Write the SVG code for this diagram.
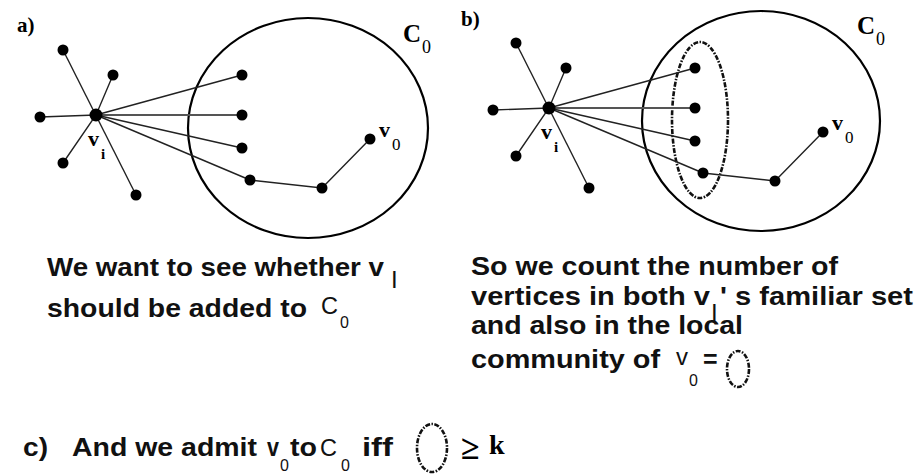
<svg xmlns="http://www.w3.org/2000/svg" width="918" height="475" viewBox="0 0 918 475">
<style>
.edge{stroke:#222;stroke-width:1.4;fill:none}
.dbl{stroke:#555;stroke-width:2.2;fill:none}
.node{fill:#000}
.comm{fill:none;stroke:#000;stroke-width:2.2}
.fam{fill:none;stroke:#111;stroke-width:2.6;stroke-dasharray:5 1.5 1.5 1.5}
.lbl{font-family:"Liberation Serif","Times New Roman",serif;font-weight:bold;fill:#000}
.lsub{font-family:"Liberation Serif","Times New Roman",serif;fill:#000}
.txt{font-family:"Liberation Sans",Arial,sans-serif;font-weight:bold;font-size:25px;fill:#111}
.reg{font-family:"Liberation Sans",Arial,sans-serif;font-size:24px;fill:#111}
.sub{font-family:"Liberation Sans",Arial,sans-serif;font-size:16px;fill:#111}
</style>
<rect width="918" height="475" fill="#fff"/>

<!-- Panel a -->
<g id="panel-a">
  <text class="lbl" x="17" y="32" font-size="21">a)</text>
  <g id="a-community">
    <ellipse class="comm" cx="308" cy="128" rx="120" ry="110"/>
    <text class="lbl" x="403" y="42" font-size="25">C</text>
    <text class="lsub" x="422" y="53" font-size="18">0</text>
  </g>
  <g id="a-connectors">
    <path class="edge" d="M63 50 L136 195"/>
    <path class="edge" d="M113 75 L96 115 L63 163"/>
    <path class="edge" d="M40 117 L96 115"/>
    <path class="edge" d="M96 115 L242 75"/>
    <path class="dbl" d="M96 115 L242 115"/>
    <path class="edge" d="M96 115 L242 148"/>
    <path class="edge" d="M96 115 L250 180"/>
    <path class="edge" d="M250 180 L322 188 L370 139"/>
  </g>
  <g id="a-vi"><circle class="node" cx="96" cy="115" r="6.5"/><text class="lbl" x="88" y="146" font-size="22">v</text><text class="lbl" x="101" y="159" font-size="15">i</text></g>
  <g id="a-n1"><circle class="node" cx="63" cy="50" r="5.5"/></g>
  <g id="a-n2"><circle class="node" cx="113" cy="75" r="5.5"/></g>
  <g id="a-n3"><circle class="node" cx="40" cy="117" r="5.5"/></g>
  <g id="a-n4"><circle class="node" cx="63" cy="163" r="5.5"/></g>
  <g id="a-n5"><circle class="node" cx="136" cy="195" r="5.5"/></g>
  <g id="a-m1"><circle class="node" cx="242" cy="75" r="5.5"/></g>
  <g id="a-m2"><circle class="node" cx="242" cy="115" r="5.5"/></g>
  <g id="a-m3"><circle class="node" cx="242" cy="148" r="5.5"/></g>
  <g id="a-m4"><circle class="node" cx="250" cy="180" r="5.5"/></g>
  <g id="a-m5"><circle class="node" cx="322" cy="188" r="5.5"/></g>
  <g id="a-v0"><circle class="node" cx="370" cy="139" r="5.5"/><text class="lbl" x="379" y="137" font-size="22">v</text><text class="lsub" x="392" y="150" font-size="17">0</text></g>
</g>

<!-- Panel b -->
<text class="lbl" x="461" y="26" font-size="21">b)</text>
<g id="panel-b" transform="translate(453,-7)">
  <g id="b-community">
    <ellipse class="comm" cx="308" cy="128" rx="119" ry="110"/>
    <text class="lbl" x="404" y="41" font-size="25">C</text>
    <text class="lsub" x="423" y="52" font-size="18">0</text>
  </g>
  <g id="b-familiar"><ellipse class="fam" cx="247" cy="127" rx="28" ry="78"/></g>
  <g id="b-connectors">
    <path class="edge" d="M63 50 L136 195"/>
    <path class="edge" d="M113 75 L96 115 L63 163"/>
    <path class="edge" d="M40 117 L96 115"/>
    <path class="edge" d="M96 115 L242 75"/>
    <path class="dbl" d="M96 115 L242 115"/>
    <path class="edge" d="M96 115 L242 148"/>
    <path class="edge" d="M96 115 L250 180"/>
    <path class="edge" d="M250 180 L322 188 L370 139"/>
  </g>
  <g id="b-vi"><circle class="node" cx="96" cy="115" r="6.5"/><text class="lbl" x="88" y="146" font-size="22">v</text><text class="lbl" x="101" y="159" font-size="15">i</text></g>
  <g id="b-n1"><circle class="node" cx="63" cy="50" r="5.5"/></g>
  <g id="b-n2"><circle class="node" cx="113" cy="75" r="5.5"/></g>
  <g id="b-n3"><circle class="node" cx="40" cy="117" r="5.5"/></g>
  <g id="b-n4"><circle class="node" cx="63" cy="163" r="5.5"/></g>
  <g id="b-n5"><circle class="node" cx="136" cy="195" r="5.5"/></g>
  <g id="b-m1"><circle class="node" cx="242" cy="75" r="5.5"/></g>
  <g id="b-m2"><circle class="node" cx="242" cy="115" r="5.5"/></g>
  <g id="b-m3"><circle class="node" cx="242" cy="148" r="5.5"/></g>
  <g id="b-m4"><circle class="node" cx="250" cy="180" r="5.5"/></g>
  <g id="b-m5"><circle class="node" cx="322" cy="188" r="5.5"/></g>
  <g id="b-v0"><circle class="node" cx="370" cy="139" r="5.5"/><text class="lbl" x="379" y="137" font-size="22">v</text><text class="lsub" x="392" y="150" font-size="17">0</text></g>
</g>

<!-- Caption a -->
<g id="caption-a">
  <text class="txt" x="47" y="276" textLength="337" lengthAdjust="spacingAndGlyphs">We want to see whether v</text>
  <text class="reg" x="391" y="288" font-size="18">I</text>
  <text class="txt" x="47" y="317" textLength="260" lengthAdjust="spacingAndGlyphs">should be added to</text>
  <text class="reg" x="321" y="314" textLength="17" lengthAdjust="spacingAndGlyphs">C</text>
  <text class="sub" x="340" y="328">0</text>
</g>

<!-- Caption b -->
<g id="caption-b">
  <text class="txt" x="471" y="275" textLength="367" lengthAdjust="spacingAndGlyphs">So we count the number of</text>
  <text class="txt" x="471" y="305" textLength="239" lengthAdjust="spacingAndGlyphs">vertices in both v</text>
  <text class="reg" x="711" y="321" font-size="16">I</text>
  <text class="txt" x="720" y="305" textLength="193" lengthAdjust="spacingAndGlyphs">' s familiar set</text>
  <text class="txt" x="471" y="334" textLength="272" lengthAdjust="spacingAndGlyphs">and also in the local</text>
  <text class="txt" x="471" y="368" textLength="189" lengthAdjust="spacingAndGlyphs">community of</text>
  <text class="reg" x="676" y="365" font-size="20">v</text>
  <text class="sub" x="689" y="386">0</text>
  <text class="txt" x="703" y="368">=</text>
  <ellipse class="fam" cx="738" cy="369" rx="11" ry="18" stroke-width="2" stroke-dasharray="3 1.5"/>
</g>

<!-- Caption c -->
<g id="caption-c">
  <text class="txt" x="23" y="456" textLength="25" lengthAdjust="spacingAndGlyphs">c)</text>
  <text class="txt" x="72" y="456" textLength="185" lengthAdjust="spacingAndGlyphs">And we admit</text>
  <text class="txt" x="267" y="456" textLength="12" lengthAdjust="spacingAndGlyphs">v</text>
  <text class="sub" x="280" y="471">0</text>
  <text class="txt" x="290" y="456" textLength="27" lengthAdjust="spacingAndGlyphs">to</text>
  <text class="reg" x="320" y="456" textLength="17" lengthAdjust="spacingAndGlyphs">C</text>
  <text class="sub" x="341" y="471">0</text>
  <text class="txt" x="362" y="456" textLength="31" lengthAdjust="spacingAndGlyphs">iff</text>
  <ellipse class="fam" cx="432" cy="448" rx="15" ry="24" stroke-width="2.2" stroke-dasharray="3.5 1.5"/>
  <text class="lbl" x="461" y="459" font-size="34">≥</text>
  <text class="lbl" x="489" y="454" font-size="28">k</text>
</g>
</svg>
